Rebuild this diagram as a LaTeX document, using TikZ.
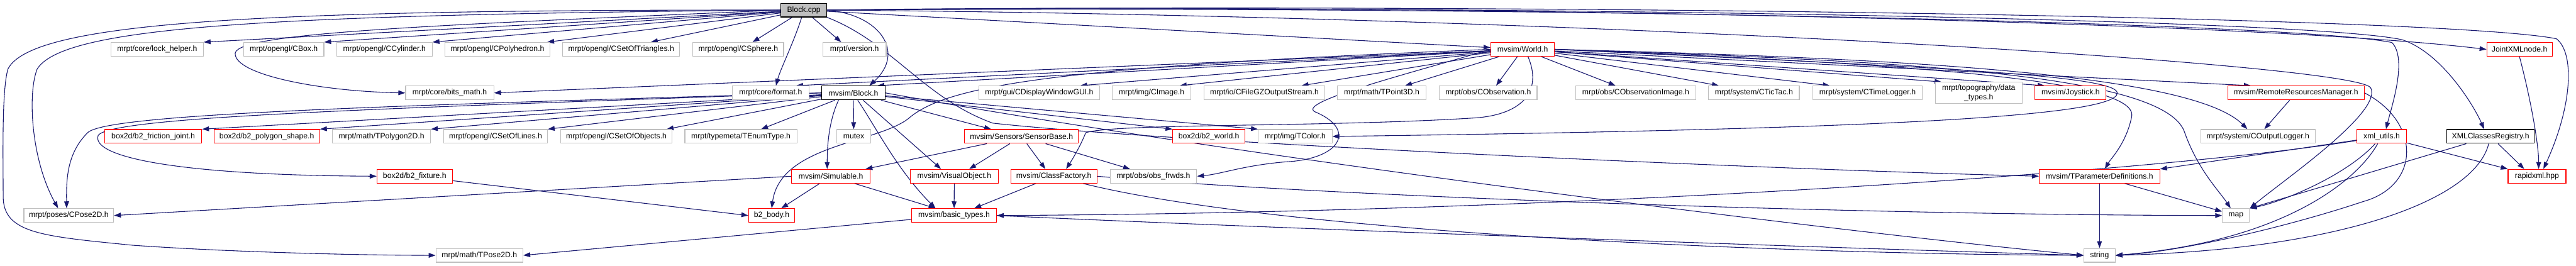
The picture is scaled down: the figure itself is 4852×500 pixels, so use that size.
\documentclass[tikz,border=0pt]{standalone}
\usepackage{fontspec}
\setmainfont{Liberation Sans}
\usetikzlibrary{arrows.meta}
\definecolor{edgec}{HTML}{191970}
\definecolor{grayb}{HTML}{BFBFBF}
\definecolor{redb}{HTML}{FF0000}
\pgfdeclarelayer{back}
\pgfdeclarelayer{edges}
\pgfsetlayers{back,edges,main}
\tikzset{
 nd/.style={draw, rectangle, line width=1.3pt, minimum height=26pt, inner sep=0pt, fill=white, font=\fontsize{14.5}{17}\selectfont},
 ext/.style={nd, draw=grayb},
 trunc/.style={nd, draw=redb},
 fullg/.style={nd, draw=black},
 root/.style={nd, draw=black, fill=grayb},
 edge/.style={draw=edgec, line width=1.3pt, -{Triangle[length=13pt,width=9pt]}},
}
\begin{document}
\begin{tikzpicture}[x=1pt,y=-1pt]
\begin{pgfonlayer}{back}
\fill[white] (0,0) rectangle (4852,500);
\end{pgfonlayer}
\useasboundingbox (0,0) rectangle (4852,500);
% row 0
\node[root, minimum width=86pt] (bcpp) at (1514,19) {Block.cpp};
% row A
\node[ext, minimum width=174pt] (lock) at (296,93) {mrpt/core/lock\_helper.h};
\node[ext, minimum width=151pt] (cbox) at (534.5,93) {mrpt/opengl/CBox.h};
\node[ext, minimum width=180pt] (ccyl) at (724,93) {mrpt/opengl/CCylinder.h};
\node[ext, minimum width=198pt] (cpoly) at (937,93) {mrpt/opengl/CPolyhedron.h};
\node[ext, minimum width=220pt] (ctri) at (1170,93) {mrpt/opengl/CSetOfTriangles.h};
\node[ext, minimum width=171pt] (csph) at (1390.5,93) {mrpt/opengl/CSphere.h};
\node[ext, minimum width=119pt] (ver) at (1609.5,93) {mrpt/version.h};
\node[trunc, minimum width=120pt] (world) at (2868,93) {mvsim/World.h};
\node[trunc, minimum width=123pt] (jxml) at (4745.5,93) {JointXMLnode.h};
% row B
\node[ext, minimum width=166pt] (bits) at (847,175) {mrpt/core/bits\_math.h};
\node[ext, minimum width=145pt] (fmt) at (1451.5,175) {mrpt/core/format.h};
\node[fullg, minimum width=119pt] (blockh) at (1607.5,175) {mvsim/Block.h};
\node[ext, minimum width=227pt] (gui) at (1957.5,175) {mrpt/gui/CDisplayWindowGUI.h};
\node[ext, minimum width=148pt] (cimg) at (2169,175) {mrpt/img/CImage.h};
\node[ext, minimum width=227pt] (gz) at (2381.5,175) {mrpt/io/CFileGZOutputStream.h};
\node[ext, minimum width=167pt] (tp3) at (2602.5,175) {mrpt/math/TPoint3D.h};
\node[ext, minimum width=184pt] (cobs) at (2803,175) {mrpt/obs/CObservation.h};
\node[ext, minimum width=226pt] (cobsi) at (3081,175) {mrpt/obs/CObservationImage.h};
\node[ext, minimum width=171pt] (tictac) at (3303.5,175) {mrpt/system/CTicTac.h};
\node[ext, minimum width=207pt] (tlog) at (3517.5,175) {mrpt/system/CTimeLogger.h};
\node[ext, minimum width=164pt, minimum height=40pt, align=center] (topo) at (3727,175) {mrpt/topography/data\\\_types.h};
\node[trunc, minimum width=134pt] (joy) at (3900,175) {mvsim/Joystick.h};
\node[trunc, minimum width=257pt] (rrm) at (4324.5,175) {mvsim/RemoteResourcesManager.h};
% row C
\node[trunc, minimum width=183pt] (fric) at (288.5,257) {box2d/b2\_friction\_joint.h};
\node[trunc, minimum width=199pt] (polys) at (502.5,257) {box2d/b2\_polygon\_shape.h};
\node[ext, minimum width=185pt] (tpoly) at (718.5,257) {mrpt/math/TPolygon2D.h};
\node[ext, minimum width=195pt] (csl) at (933.5,257) {mrpt/opengl/CSetOfLines.h};
\node[ext, minimum width=210pt] (cso) at (1161,257) {mrpt/opengl/CSetOfObjects.h};
\node[ext, minimum width=211pt] (tenum) at (1395.5,257) {mrpt/typemeta/TEnumType.h};
\node[ext, minimum width=64pt] (mutex) at (1608,257) {mutex};
\node[trunc, minimum width=214pt] (sensor) at (1924,257) {mvsim/Sensors/SensorBase.h};
\node[trunc, minimum width=136pt] (b2world) at (2277,257) {box2d/b2\_world.h};
\node[ext, minimum width=139pt] (tcolor) at (2439.5,257) {mrpt/img/TColor.h};
\node[ext, minimum width=216pt] (colog) at (4253,257) {mrpt/system/COutputLogger.h};
\node[trunc, minimum width=94pt] (xmlu) at (4486,257) {xml\_utils.h};
\node[fullg, minimum width=164pt] (xmlc) at (4691,257) {XMLClassesRegistry.h};
% row D
\node[trunc, minimum width=142pt] (b2fix) at (781,332) {box2d/b2\_fixture.h};
\node[trunc, minimum width=148pt] (simul) at (1565,332) {mvsim/Simulable.h};
\node[trunc, minimum width=165pt] (visual) at (1797.5,332) {mvsim/VisualObject.h};
\node[trunc, minimum width=162pt] (cfac) at (1985,332) {mvsim/ClassFactory.h};
\node[ext, minimum width=163pt] (obsf) at (2172.5,332) {mrpt/obs/obs\_frwds.h};
\node[trunc, minimum width=227pt] (tparam) at (3954.5,332) {mvsim/TParameterDefinitions.h};
\node[trunc, minimum width=109pt] (rapid) at (4778.5,332) {rapidxml.hpp};
% row E
\node[ext, minimum width=169pt] (cpose) at (129.5,406) {mrpt/poses/CPose2D.h};
\node[trunc, minimum width=87pt] (b2body) at (1453.5,406) {b2\_body.h};
\node[trunc, minimum width=160pt] (basic) at (1797,406) {mvsim/basic\_types.h};
\node[ext, minimum width=51pt] (map) at (4211.5,406) {map};
% row F
\node[ext, minimum width=164pt] (tpose) at (903,481) {mrpt/math/TPose2D.h};
\node[ext, minimum width=59pt] (string) at (3954.5,481) {string};

\begin{pgfonlayer}{edges}
% ---- edges from Block.cpp
\draw[edge] (bcpp) -- (lock.north east);
\draw[edge] (bcpp) -- (cbox.north east);
\draw[edge] (bcpp) -- (ccyl.north east);
\draw[edge] (bcpp) -- ([xshift=-6pt]cpoly.north east);
\draw[edge] (bcpp) -- ([xshift=56pt]ctri.north);
\draw[edge] (bcpp) -- ([xshift=27pt]csph.north);
\draw[edge] (bcpp) -- ([xshift=-25pt]ver.north);
\draw[edge] ([xshift=-4pt]bcpp.south) .. controls (1495,80) and (1470,130) .. ([xshift=10pt]fmt.north);
\draw[edge] (bcpp.east) .. controls (1660,28) and (1705,100) .. ([xshift=30pt]blockh.north);
\draw[edge] (bcpp) -- (world);
\draw[edge] (bcpp.south east) .. controls (1680,80) and (1740,185) .. (1870,232) .. controls (2200,268) and (3300,318) .. (tparam.west);
\draw[edge] (bcpp.west) .. controls (500,28) and (120,50) .. (70,130) .. controls (52,175) and (58,300) .. ([xshift=-20pt]cpose.north);
\draw[edge] (bcpp.west) .. controls (500,18) and (60,40) .. (15,130) .. controls (3,170) and (6,300) .. (6,370) .. controls (6,440) and (80,445) .. (250,462) .. controls (450,476) and (700,481) .. (tpose.west);
\draw[edge] (bcpp.west) .. controls (800,48) and (450,62) .. (443,100) .. controls (440,140) and (600,172) .. (bits.west);
\draw[edge] (bcpp.east) .. controls (2500,5) and (4200,35) .. (jxml.west);
\draw[edge] (bcpp.east) .. controls (2800,10) and (4300,40) .. (4505,80) .. controls (4535,110) and (4505,200) .. ([xshift=8pt]xmlu.north);
\draw[edge] (bcpp.east) .. controls (2800,8) and (4350,35) .. (4525,75) .. controls (4600,100) and (4660,200) .. ([xshift=-12pt]xmlc.north);
\draw[edge] (bcpp.east) .. controls (2800,5) and (4600,30) .. (4815,73) .. controls (4850,100) and (4845,200) .. ([xshift=12pt]rapid.north);
\draw[edge] (bcpp.east) .. controls (3000,30) and (4430,120) .. (4465,165) .. controls (4490,210) and (4300,340) .. (map.north east);
% ---- edges from World.h
\draw[edge] (world) -- ([xshift=45pt]blockh.north);
\draw[edge] (world) -- (bits.east);
\draw[edge] (world) -- ([xshift=48pt]fmt.north);
\draw[edge] (world) -- ([xshift=77pt]gui.north);
\draw[edge] (world) -- ([xshift=53pt]cimg.north);
\draw[edge] (world) -- ([xshift=70pt]gz.north);
\draw[edge] (world) -- ([xshift=44pt]tp3.north);
\draw[edge] (world) -- ([xshift=15pt]cobs.north);
\draw[edge] (world) -- ([xshift=-38pt]cobsi.north);
\draw[edge] (world) -- ([xshift=-66pt]tictac.north);
\draw[edge] (world) -- ([xshift=-71pt]tlog.north);
\draw[edge] (world) -- ([xshift=-70pt]topo.north);
\draw[edge] (world) -- ([xshift=-49pt]joy.north);
\draw[edge] (world) -- ([xshift=-85pt]rrm.north);
\draw[edge] (world.east) .. controls (3600,110) and (4130,140) .. ([xshift=-20pt]colog.north);
\draw[edge] (world.east) .. controls (3600,115) and (4080,140) .. (4115,250) .. controls (4140,320) and (4180,360) .. ([xshift=-10pt]map.north);
\draw[edge] (world.east) .. controls (3600,120) and (4030,150) .. (4015,220) .. controls (4005,270) and (3975,300) .. ([xshift=10pt]tparam.north);
\draw[edge] (world.east) .. controls (3600,125) and (3985,140) .. (3988,175) .. controls (3990,225) and (3400,245) .. (tcolor.east);
\draw[edge] (world.west) .. controls (2000,125) and (1790,160) .. (1715,220) .. controls (1660,270) and (1470,270) .. (b2body.north);
\draw[edge] ([xshift=10pt]world.south) .. controls (2905,170) and (2870,215) .. (2780,222) .. controls (2500,240) and (2100,232) .. (2045,250) .. controls (2035,275) and (2020,300) .. ([xshift=23pt]cfac.north);
\draw[edge] (world.west) .. controls (2650,140) and (2430,195) .. (2480,212) .. controls (2555,245) and (2525,300) .. (2420,305) .. controls (2340,312) and (2300,328) .. (obsf.east);
% ---- edges from Block.h
\draw[edge] (blockh) -- (fric.north east);
\draw[edge] (blockh) -- (polys.north east);
\draw[edge] (blockh) -- (tpoly.north east);
\draw[edge] (blockh) -- (csl.north east);
\draw[edge] (blockh) -- ([xshift=-11pt]cso.north east);
\draw[edge] (blockh) -- ([xshift=38pt]tenum.north);
\draw[edge] (blockh) -- (mutex);
\draw[edge] (blockh) -- ([xshift=-57pt]sensor.north);
\draw[edge] (blockh) -- (b2world.north west);
\draw[edge] (blockh) -- (tcolor.north west);
\draw[edge] ([xshift=18pt]blockh.south) -- ([xshift=-25pt]visual.north);
\draw[edge] (blockh.west) .. controls (700,200) and (200,215) .. (165,250) .. controls (125,290) and (125,340) .. ([xshift=-4pt]cpose.north);
\draw[edge] (blockh.west) .. controls (700,205) and (210,220) .. (185,255) .. controls (170,295) and (330,330) .. (b2fix.west);
\draw[edge] ([xshift=-28pt]blockh.south) .. controls (1560,230) and (1558,280) .. ([xshift=-7pt]simul.north);
\draw[edge] ([xshift=8pt]blockh.south) .. controls (1650,240) and (1690,320) .. ([xshift=-35pt]basic.north);
\draw[edge] (blockh.east) .. controls (2300,290) and (3400,430) .. (string.west);
% ---- other
\draw[edge] (simul.west) -- (cpose.east);
\draw[edge] (simul) -- ([xshift=18pt]b2body.north);
\draw[edge] (simul) -- ([xshift=-35pt]basic.north);
\draw[edge] (visual) -- (basic);
\draw[edge] (sensor) -- (simul);
\draw[edge] (sensor) -- ([xshift=28pt]visual.north);
\draw[edge] (sensor) -- ([xshift=-16pt]cfac.north);
\draw[edge] (sensor) -- ([xshift=-44pt]obsf.north);
\draw[edge] (cfac) -- ([xshift=38pt]basic.north);
\draw[edge] (cfac) .. controls (2400,435) and (3300,478) .. (string.west);
\draw[edge] (cfac.east) .. controls (2500,370) and (3500,405) .. (map.west);
\draw[edge] (b2fix) -- (b2body.west);
\draw[edge] (basic) -- (tpose.east);
\draw[edge] (basic.east) .. controls (2400,430) and (3300,462) .. (string.west);
\draw[edge] (xmlu) .. controls (4100,320) and (3000,400) .. (basic.east);
\draw[edge] (xmlu) -- (tparam.north east);
\draw[edge] (xmlu) .. controls (4420,330) and (4300,380) .. (map.north east);
\draw[edge] (xmlu) .. controls (4440,340) and (4300,455) .. (string.east);
\draw[edge] (xmlu) -- (rapid.north west);
\draw[edge] (xmlc) -- (map.north east);
\draw[edge] (xmlc) .. controls (4660,380) and (4400,470) .. (string.east);
\draw[edge] (xmlc) -- ([xshift=-24pt]rapid.north);
\draw[edge] (jxml.south) .. controls (4770,200) and (4782,280) .. ([xshift=3pt]rapid.north);
\draw[edge] (rrm) -- (colog);
\draw[edge] (rrm.east) .. controls (4560,230) and (4560,350) .. (4450,380) .. controls (4300,430) and (4100,475) .. (string.east);
\draw[edge] (tparam) -- (string);
\draw[edge] (tparam) -- (map);
\end{pgfonlayer}
\end{tikzpicture}
\end{document}
